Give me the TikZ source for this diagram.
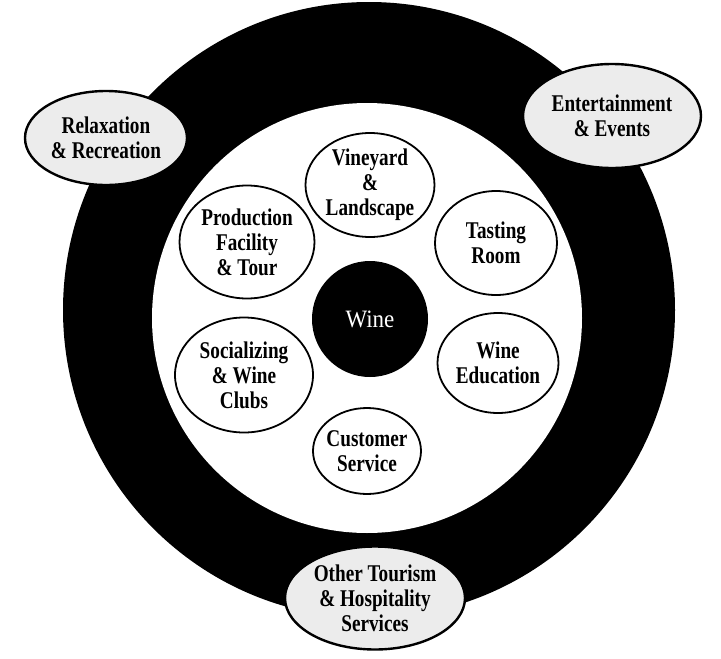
\documentclass[tikz,border=0pt]{standalone}
\usepackage{fontspec}
\newfontfamily\labelfont{Liberation Serif}[FakeStretch=0.8]
\newfontfamily\winefont{Liberation Serif}[FakeStretch=0.92]
\usetikzlibrary{shapes.geometric}
\definecolor{blobgray}{RGB}{236,236,236}

\begin{document}
\begin{tikzpicture}[x=1pt, y=-1pt,
    outerblob/.style={ellipse, draw, line width=2.4pt, fill=blobgray, inner sep=0pt},
    innerblob/.style={ellipse, draw, line width=1.8pt, fill=white, inner sep=0pt},
    labeltext/.style={align=center, font=\labelfont\bfseries\fontsize{24}{25}\selectfont}]
    \useasboundingbox (0,0) rectangle (721,659);

    % black ring, white inside
    \fill (369,310) ellipse [x radius=306, y radius=308];
    \fill[white] (367,318) circle (215);

    % core
    \node[circle, fill=black, minimum size=116pt, inner sep=0pt] (wine) at (370,319) {};
    \node[white, font=\winefont\fontsize{25}{25}\selectfont] at (wine) {Wine};

    % inner circle of experiences
    \node[innerblob, minimum width=129pt, minimum height=104pt] (vineyard) at (370,185) {};
    \node[labeltext] at (vineyard) {Vineyard\\\&\\Landscape};
    \node[innerblob, minimum width=135pt, minimum height=113pt] (production) at (247,242) {};
    \node[labeltext] at (production) {Production\\Facility\\\& Tour};
    \node[innerblob, minimum width=122pt, minimum height=104pt] (tasting) at (496,243) {};
    \node[labeltext] at (tasting) {Tasting\\Room};
    \node[innerblob, minimum width=138pt, minimum height=115pt] (social) at (244,375) {};
    \node[labeltext] at (social) {Socializing\\\& Wine\\Clubs};
    \node[innerblob, minimum width=121pt, minimum height=100pt] (education) at (498,363) {};
    \node[labeltext] at (education) {Wine\\Education};
    \node[innerblob, minimum width=108pt, minimum height=86pt] (customer) at (367,451) {};
    \node[labeltext] at (customer) {Customer\\Service};

    % outer ring blobs
    \node[outerblob, minimum width=162pt, minimum height=94pt] (relax) at (106,138) {};
    \node[labeltext] at (relax) {Relaxation\\\& Recreation};
    \node[outerblob, minimum width=178pt, minimum height=104pt] (entertain) at (612,116) {};
    \node[labeltext] at (entertain) {Entertainment\\\& Events};
    \node[outerblob, minimum width=180pt, minimum height=103pt] (tourism) at (375,598) {};
    \node[labeltext] at (tourism) {Other Tourism\\\& Hospitality\\Services};
\end{tikzpicture}
\end{document}
